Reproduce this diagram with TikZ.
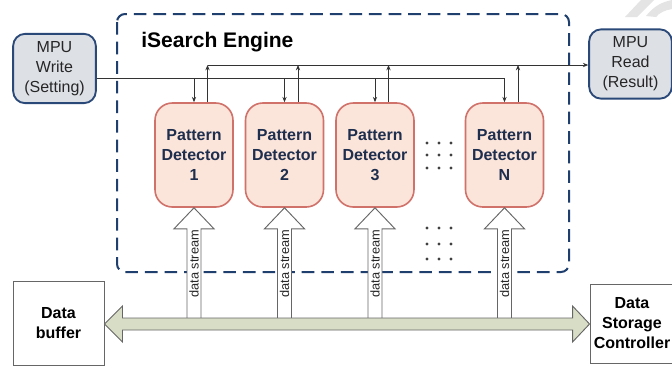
\documentclass[tikz,border=0pt]{standalone}
\usepackage{fontspec}
\setmainfont{Liberation Sans}
\usetikzlibrary{calc,arrows.meta}

\definecolor{navy}{HTML}{1F3F6E}
\definecolor{mpufill}{HTML}{DDE0E5}
\definecolor{mpuline}{HTML}{2A4878}
\definecolor{pdfill}{HTML}{FBE4D9}
\definecolor{pdline}{HTML}{D0716A}
\definecolor{pdtext}{HTML}{1E2E4E}
\definecolor{busfill}{HTML}{D8DEC6}
\definecolor{graystroke}{HTML}{666666}
\definecolor{swoosh}{HTML}{E4E4E4}

\tikzset{
  mpubox/.style={draw=mpuline, fill=mpufill, line width=1.4pt, rounded corners=9pt,
    minimum width=62pt, minimum height=52pt, align=center, text=black!85,
    font=\fontsize{12}{15}\selectfont, inner sep=0pt},
  pdbox/.style={draw=pdline, fill=pdfill, line width=1.2pt, rounded corners=13pt,
    minimum width=58.5pt, minimum height=78pt, align=center, text=pdtext,
    font=\bfseries\fontsize{12}{15}\selectfont, inner sep=0pt},
  plainbox/.style={draw=graystroke, line width=0.7pt, fill=white, align=center,
    font=\bfseries\fontsize{12}{15}\selectfont, inner sep=0pt},
  conn/.style={draw=black!80, line width=0.6pt},
  tip/.style={-{Stealth[length=4pt,width=3.2pt]}},
  hollow/.style={draw=graystroke, fill=white, line width=0.7pt, line join=miter},
  streamlabel/.style={rotate=90, font=\fontsize{9.6}{10}\selectfont, text=black!85, inner sep=0pt},
  dotmark/.style={fill=black!75},
}

\begin{document}
\begin{tikzpicture}[x=0.75pt, y=-0.75pt]
\clip (0,0) rectangle (672,365);
\fill[white] (0,0) rectangle (672,365);

% faint mark in the upper right corner
\fill[swoosh] (625,17) -- (641,0) -- (654,0) -- (637,17) -- cycle;
\fill[swoosh] (646,16) .. controls (654,6) and (662,2) .. (672,0) -- (672,9)
  .. controls (665,10) and (659,13) .. (656,17) -- cycle;

% engine frame
\draw[navy, line width=1.5pt, dash pattern=on 9.5pt off 5.2pt, rounded corners=6pt]
  (117,14) rectangle (569,272);
\node[anchor=west, font=\bfseries\fontsize{15.8}{17}\selectfont, inner sep=0pt]
  (title) at (141,42) {iSearch Engine};

% host side
\node[mpubox] (mpuw) at (54.5,68.5) {MPU\\Write\\(Setting)};
\node[mpubox] (mpur) at (630.5,64) {MPU\\Read\\(Result)};

% pattern detectors
\node[pdbox] (pd1) at (194,155) {Pattern\\Detector\\1};
\node[pdbox] (pd2) at (284.5,155) {Pattern\\Detector\\2};
\node[pdbox] (pd3) at (375,155) {Pattern\\Detector\\3};
\node[pdbox] (pdN) at (504.5,155) {Pattern\\Detector\\N};

% ellipsis dots
\foreach \dx in {427,439,451}{
  \foreach \dy in {143,155,168,228,244,259}{
    \fill[dotmark] (\dx,\dy) circle (1.3pt);
  }
}

% write and read lines
\coordinate (wy) at (0,78);
\coordinate (ry) at (0,65);
\draw[conn] (mpuw.east |- wy) -- (pd3.north |- wy);
\draw[conn, tip] (pd3.north |- wy) -| (pdN.north);
\foreach \p in {pd1,pd2,pd3}{
  \draw[conn, tip] (\p.north |- wy) -- (\p.north);
}
\foreach \p in {pd1,pd2,pd3,pdN}{
  \coordinate (\p up) at ($(\p.north)+(13.5,0)$);
  \draw[conn, tip] (\p up) -- (\p up |- ry);
}
\draw[conn, tip] (pd1up |- ry) -- (mpur.west |- ry);

% data side
\node[plainbox, minimum width=68.25pt, minimum height=63pt] (buf) at (58.5,323.5) {Data\\buffer};
\node[plainbox, minimum width=63pt, minimum height=59.25pt] (dsc) at (632,323.5) {Data\\Storage\\Controller};

% data stream arrows into each detector
\foreach \p in {pd1,pd2,pd3,pdN}{
  \draw[hollow] (\p.south) -- ++(20,21) -- ++(-13,0) -- ++(0,91) -- ++(-14,0)
    -- ++(0,-91) -- ++(-13,0) -- cycle;
  \node[streamlabel] at ($(\p.south)+(0,56)$) {data stream};
}

% bidirectional data bus
\coordinate (busL) at (buf.east |- 0,324);
\coordinate (busR) at (dsc.west |- 0,324);
\draw[draw=graystroke, fill=busfill, line width=0.7pt, line join=miter]
  (busL) -- ++(18,-18) -- ++(0,12) -- ($(busR)+(-17,-6)$) -- ++(0,-12)
  -- (busR) -- ++(-17,18) -- ++(0,-12) -- ($(busL)+(18,6)$) -- ++(0,12) -- cycle;
\end{tikzpicture}
\end{document}
